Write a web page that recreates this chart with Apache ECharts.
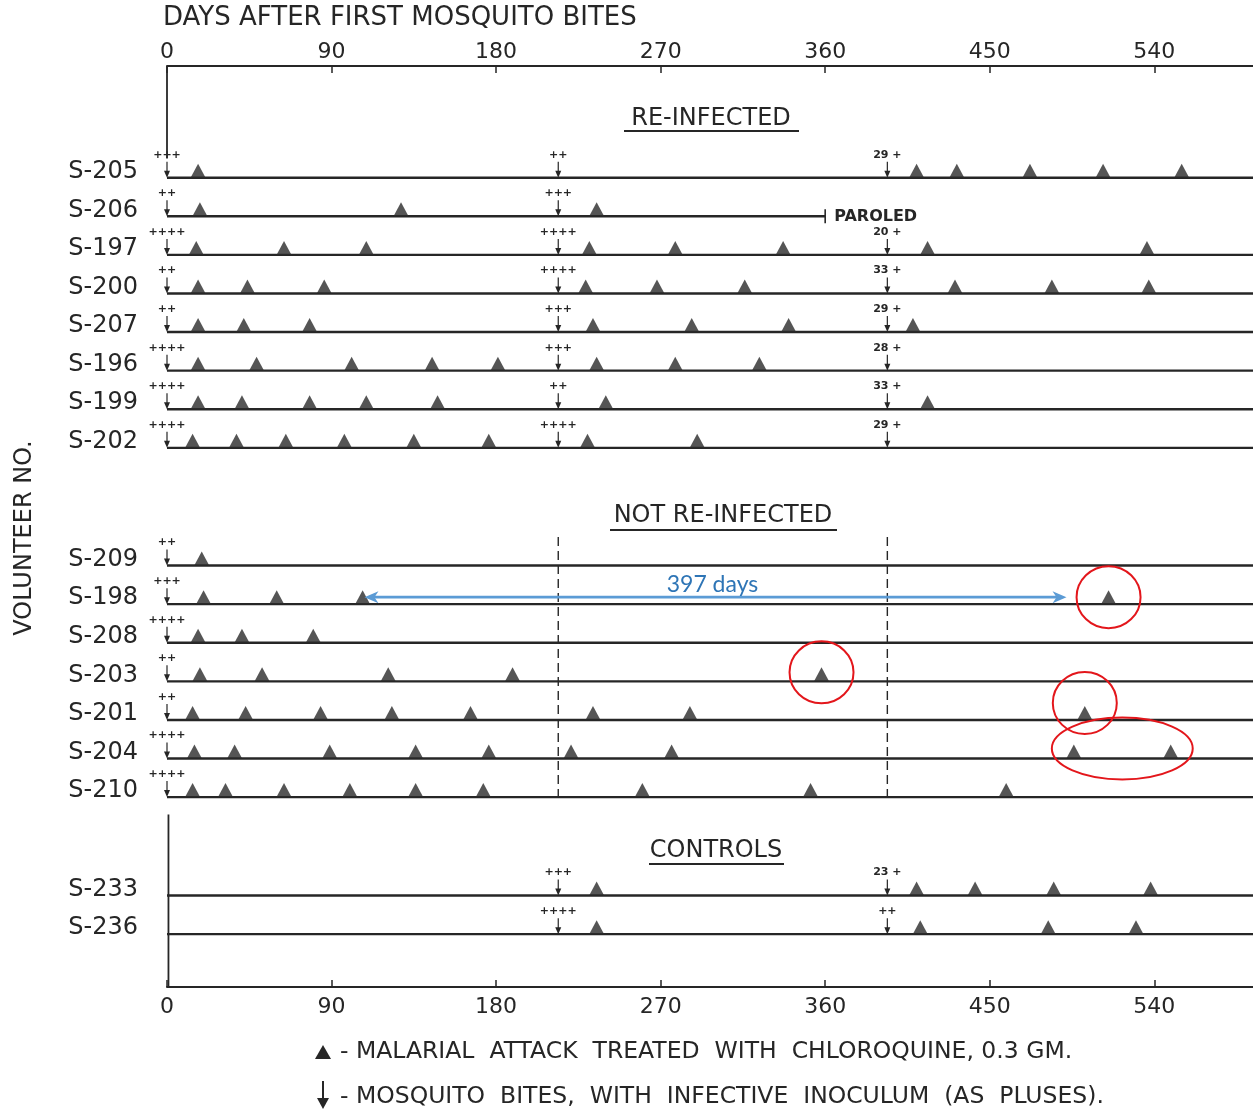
<!DOCTYPE html>
<html><head><meta charset="utf-8">
<script src="https://cdn.jsdelivr.net/npm/echarts@6/dist/echarts.min.js"></script>
<style>html,body{margin:0;padding:0;background:#fff}#c{width:1253px;height:1112px}</style>
</head><body><div id="c"></div>
<script>
// ---------------- DATA ----------------
const xTicks = [0, 90, 180, 270, 360, 450, 540];
const reinfected = ['S-205','S-206','S-197','S-200','S-207','S-196','S-199','S-202'];
const notReinfected = ['S-209','S-198','S-208','S-203','S-201','S-204','S-210'];
const controls = ['S-233','S-236'];
const sectionTitles = ['RE-INFECTED','NOT RE-INFECTED','CONTROLS'];

// attack days (triangles)
const attacksS205 = [17, 410, 432, 472, 512, 555];
const attacksS206 = [18, 128, 235];
const attacksS197 = [16, 64, 109, 231, 278, 337, 416, 536];
const attacksS200 = [17, 44, 86, 229, 268, 316, 431, 484, 537];
const attacksS207 = [17, 42, 78, 233, 287, 340, 408];
const attacksS196 = [17, 49, 101, 145, 181, 235, 278, 324];
const attacksS199 = [17, 41, 78, 109, 148, 240, 416];
const attacksS202 = [14, 38, 65, 97, 135, 176, 230, 290];
const attacksS209 = [19];
const attacksS198 = [20, 60, 107, 515];
const attacksS208 = [17, 41, 80];
const attacksS203 = [18, 52, 121, 189, 358];
const attacksS201 = [14, 43, 84, 123, 166, 233, 286, 502];
const attacksS204 = [15, 37, 89, 136, 176, 221, 276, 496, 549];
const attacksS210 = [14, 32, 64, 100, 136, 173, 260, 352, 459];
const attacksS233 = [235, 410, 442, 485, 538];
const attacksS236 = [235, 412, 482, 530];

// mosquito bites: [day, inoculum label]
const bitesS205 = [[0,'+++'],[214,'++'],[394,'29 +']];
const bitesS206 = [[0,'++'],[214,'+++']];
const bitesS197 = [[0,'++++'],[214,'++++'],[394,'20 +']];
const bitesS200 = [[0,'++'],[214,'++++'],[394,'33 +']];
const bitesS207 = [[0,'++'],[214,'+++'],[394,'29 +']];
const bitesS196 = [[0,'++++'],[214,'+++'],[394,'28 +']];
const bitesS199 = [[0,'++++'],[214,'++'],[394,'33 +']];
const bitesS202 = [[0,'++++'],[214,'++++'],[394,'29 +']];
const bitesS209 = [[0,'++']];
const bitesS198 = [[0,'+++']];
const bitesS208 = [[0,'++++']];
const bitesS203 = [[0,'++']];
const bitesS201 = [[0,'++']];
const bitesS204 = [[0,'++++']];
const bitesS210 = [[0,'++++']];
const bitesS233 = [[214,'+++'],[394,'23 +']];
const bitesS236 = [[214,'++++'],[394,'++']];

const paroledVolunteer = 'S-206';
const paroledDay = 360;
const dashedDays = [214, 394];

// annotations
const circledVolunteers = ['S-198','S-203','S-201','S-204'];
const circledDays = [[515],[358],[502],[496,549]];
const gapVolunteer = 'S-198';
const gapDays = [108, 492];
const gapLabel = '397 days';

const legendAttack = '- MALARIAL  ATTACK  TREATED  WITH  CHLOROQUINE, 0.3 GM.';
const legendBite = '- MOSQUITO  BITES,  WITH  INFECTIVE  INOCULUM  (AS  PLUSES).';

// ---------------- BUILD ----------------
const attackMap = {'S-205':attacksS205,'S-206':attacksS206,'S-197':attacksS197,'S-200':attacksS200,'S-207':attacksS207,'S-196':attacksS196,'S-199':attacksS199,'S-202':attacksS202,'S-209':attacksS209,'S-198':attacksS198,'S-208':attacksS208,'S-203':attacksS203,'S-201':attacksS201,'S-204':attacksS204,'S-210':attacksS210,'S-233':attacksS233,'S-236':attacksS236};
const biteMap = {'S-205':bitesS205,'S-206':bitesS206,'S-197':bitesS197,'S-200':bitesS200,'S-207':bitesS207,'S-196':bitesS196,'S-199':bitesS199,'S-202':bitesS202,'S-209':bitesS209,'S-198':bitesS198,'S-208':bitesS208,'S-203':bitesS203,'S-201':bitesS201,'S-204':bitesS204,'S-210':bitesS210,'S-233':bitesS233,'S-236':bitesS236};

const X_MAX = 594;
const Y_MIN = -2.894, Y_MAX = 20.97;
const sectionStart = [0, 10.05, 18.6];   // layout: row offsets of each block
const rows = [];
[reinfected, notReinfected, controls].forEach((grp, g) => grp.forEach((name, i) => {
  rows.push({name, pos: sectionStart[g] + i, end: name === paroledVolunteer ? paroledDay : X_MAX});
}));
const posOf = {}; rows.forEach(r => posOf[r.name] = r.pos);

const attackData = [];
rows.forEach(r => attackMap[r.name].forEach(d => attackData.push([d, r.pos])));
const biteData = [], biteLabels = [];
rows.forEach(r => biteMap[r.name].forEach(b => { biteData.push([b[0], r.pos]); biteLabels.push(b[1]); }));

const INK = '#262626';
const FONT = '"DejaVu Sans", sans-serif';
const circleLift = [7, 9, 17, 10];

const chart = echarts.init(document.getElementById('c'));
const axisCommon = {
  type: 'value', min: 0, max: X_MAX,
  axisLine: {show: true, onZero: false, lineStyle: {color: INK, width: 2}},
  axisTick: {show: true, inside: true, length: 7, lineStyle: {color: INK, width: 1.5}, customValues: xTicks},
  axisLabel: {color: INK, fontSize: 22, fontFamily: 'DejaVu Sans', customValues: xTicks},
  splitLine: {show: false}
};
const option = {
  animation: false,
  backgroundColor: '#fff',
  grid: {left: 167, right: 0, top: 66, bottom: 125},
  xAxis: [
    Object.assign({}, axisCommon, {position: 'bottom', axisLabel: Object.assign({}, axisCommon.axisLabel, {margin: 9})}),
    Object.assign({}, axisCommon, {position: 'top', axisLabel: Object.assign({}, axisCommon.axisLabel, {margin: 3})})
  ],
  yAxis: {type: 'value', inverse: true, min: Y_MIN, max: Y_MAX, show: false},
  series: [
    { // frame pieces: left verticals
      type: 'custom', clip: false, z: 1,
      data: [[0, Y_MIN, -0.5], [0.8, 16.5, Y_MAX]],
      encode: {x: 0, y: 1},
      renderItem(params, api) {
        const a = api.coord([api.value(0), api.value(1)]);
        const b = api.coord([api.value(0), api.value(2)]);
        return {type: 'line', shape: {x1: a[0], y1: a[1], x2: b[0], y2: b[1]}, style: {stroke: INK, lineWidth: 1.8}};
      }
    },
    { // rows with labels
      type: 'custom', clip: false, z: 2,
      data: rows.map(r => [r.end, r.pos]),
      encode: {x: 0, y: 1},
      renderItem(params, api) {
        const r = rows[params.dataIndex];
        const a = api.coord([0, r.pos]);
        const b = api.coord([r.end, r.pos]);
        const ch = [
          {type: 'line', shape: {x1: a[0], y1: a[1], x2: b[0], y2: b[1]}, style: {stroke: INK, lineWidth: 2.4}},
          {type: 'text', x: a[0] - 29, y: a[1] - 6, style: {text: r.name, font: '24px ' + FONT, fill: INK, align: 'right', verticalAlign: 'middle'}}
        ];
        if (r.end < X_MAX) {
          ch.push({type: 'line', shape: {x1: b[0], y1: b[1] - 7, x2: b[0], y2: b[1] + 7}, style: {stroke: INK, lineWidth: 1.6}});
          ch.push({type: 'text', x: b[0] + 9, y: b[1] + 1, style: {text: 'PAROLED', font: 'bold 16px ' + FONT, fill: INK, align: 'left', verticalAlign: 'middle'}});
        }
        return {type: 'group', children: ch};
      }
    },
    { // dashed verticals in the not re-infected block
      type: 'custom', clip: false, z: 1,
      data: dashedDays.map(d => [d, 9.31]),
      encode: {x: 0, y: 1},
      renderItem(params, api) {
        const a = api.coord([api.value(0), 9.31]);
        const b = api.coord([api.value(0), 16.1]);
        return {type: 'line', shape: {x1: a[0], y1: a[1], x2: b[0], y2: b[1]}, style: {stroke: INK, lineWidth: 1.4, lineDash: [9, 5]}};
      }
    },
    { // mosquito bites
      type: 'custom', clip: false, z: 3,
      data: biteData,
      encode: {x: 0, y: 1},
      renderItem(params, api) {
        const p = api.coord([api.value(0), api.value(1)]);
        return {type: 'group', children: [
          {type: 'line', shape: {x1: p[0], y1: p[1] - 16, x2: p[0], y2: p[1] - 4}, style: {stroke: INK, lineWidth: 1.2}},
          {type: 'polygon', shape: {points: [[p[0] - 3, p[1] - 7], [p[0] + 3, p[1] - 7], [p[0], p[1]]]}, style: {fill: INK}},
          {type: 'text', x: p[0], y: p[1] - 23, style: {text: biteLabels[params.dataIndex], font: 'bold 11px ' + FONT, fill: INK, align: 'center', verticalAlign: 'middle'}}
        ]};
      }
    },
    { // malarial attacks
      type: 'scatter', z: 4,
      data: attackData,
      symbol: 'triangle', symbolSize: [15, 14], symbolOffset: [0, -7],
      itemStyle: {color: '#2a2a2a'}
    },
    { // red circles
      type: 'custom', clip: false, z: 5,
      data: circledVolunteers.map((v, i) => [circledDays[i][0], posOf[v]]),
      encode: {x: 0, y: 1},
      renderItem(params, api) {
        const i = params.dataIndex;
        const ds = circledDays[i];
        const y = posOf[circledVolunteers[i]];
        const a = api.coord([ds[0], y]);
        const b = api.coord([ds[ds.length - 1], y]);
        const half = (b[0] - a[0]) / 2;
        const rx = ds.length > 1 ? half + 22 : 32;
        return {type: 'ellipse', shape: {cx: (a[0] + b[0]) / 2, cy: a[1] - circleLift[i], rx: rx, ry: 31}, style: {fill: 'none', stroke: '#e3161b', lineWidth: 2}};
      }
    },
    { // blue gap arrow
      type: 'custom', clip: false, z: 5,
      data: [[gapDays[0], posOf[gapVolunteer]]],
      encode: {x: 0, y: 1},
      renderItem(params, api) {
        const y0 = posOf[gapVolunteer];
        const a = api.coord([gapDays[0], y0]);
        const b = api.coord([gapDays[1], y0]);
        const y = a[1] - 7;
        const c = '#5b9bd5';
        return {type: 'group', children: [
          {type: 'line', shape: {x1: a[0] + 6, y1: y, x2: b[0] - 6, y2: y}, style: {stroke: c, lineWidth: 2.6}},
          {type: 'polygon', shape: {points: [[a[0], y], [a[0] + 14, y - 6], [a[0] + 10, y], [a[0] + 14, y + 6]]}, style: {fill: c}},
          {type: 'polygon', shape: {points: [[b[0], y], [b[0] - 14, y - 6], [b[0] - 10, y], [b[0] - 14, y + 6]]}, style: {fill: c}},
          {type: 'text', x: (a[0] + b[0]) / 2 - 3, y: y - 13, style: {text: gapLabel, font: '23px Lato, "Open Sans", sans-serif', fill: '#2e75b6', align: 'center', verticalAlign: 'middle'}}
        ]};
      }
    }
  ],
  graphic: [
    {type: 'text', x: 163, y: 18, style: {text: 'DAYS AFTER FIRST MOSQUITO BITES', font: '26px ' + FONT, fill: INK, align: 'left', verticalAlign: 'middle'}},
    {type: 'text', x: 25, y: 538, rotation: Math.PI / 2, style: {text: 'VOLUNTEER NO.', font: '24px ' + FONT, fill: INK, align: 'center', verticalAlign: 'middle'}},
    {type: 'text', x: 711, y: 119, style: {text: sectionTitles[0], font: '24px ' + FONT, fill: INK, align: 'center', verticalAlign: 'middle'}},
    {type: 'line', shape: {x1: 624, y1: 131, x2: 799, y2: 131}, style: {stroke: INK, lineWidth: 2}},
    {type: 'text', x: 723, y: 516, style: {text: sectionTitles[1], font: '24px ' + FONT, fill: INK, align: 'center', verticalAlign: 'middle'}},
    {type: 'line', shape: {x1: 610, y1: 530, x2: 837, y2: 530}, style: {stroke: INK, lineWidth: 2}},
    {type: 'text', x: 716, y: 851, style: {text: sectionTitles[2], font: '24px ' + FONT, fill: INK, align: 'center', verticalAlign: 'middle'}},
    {type: 'line', shape: {x1: 649, y1: 864, x2: 784, y2: 864}, style: {stroke: INK, lineWidth: 2}},
    {type: 'polygon', shape: {points: [[315, 1059], [331, 1059], [323, 1045]]}, style: {fill: INK}},
    {type: 'text', x: 340, y: 1052, style: {text: legendAttack, font: '23.5px ' + FONT, fill: INK, align: 'left', verticalAlign: 'middle'}},
    {type: 'line', shape: {x1: 323, y1: 1081, x2: 323, y2: 1101}, style: {stroke: INK, lineWidth: 2}},
    {type: 'polygon', shape: {points: [[317, 1098], [329, 1098], [323, 1109]]}, style: {fill: INK}},
    {type: 'text', x: 340, y: 1097, style: {text: legendBite, font: '23.5px ' + FONT, fill: INK, align: 'left', verticalAlign: 'middle'}}
  ]
};
chart.setOption(option);
</script>
</body></html>
